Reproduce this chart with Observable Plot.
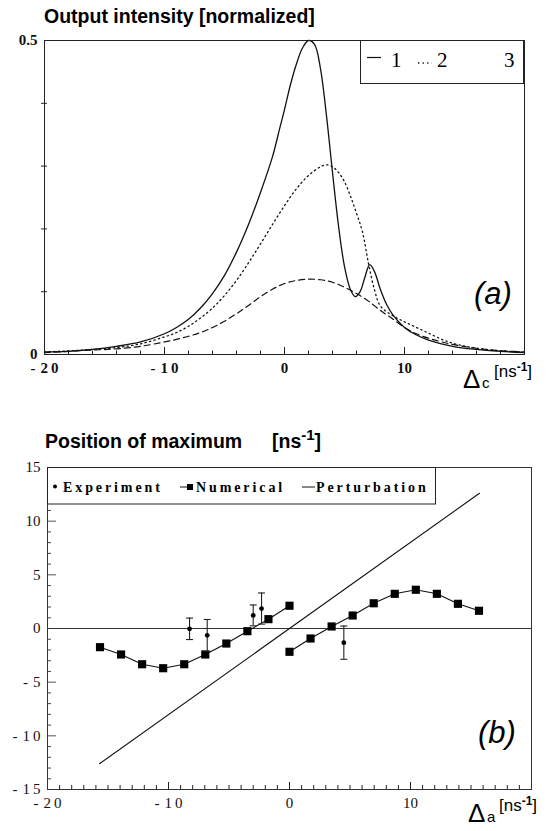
<!DOCTYPE html>
<html><head><meta charset="utf-8">
<script src="https://cdn.jsdelivr.net/npm/d3@7"></script>
<script src="https://cdn.jsdelivr.net/npm/@observablehq/plot@0.6"></script>
<style>
html,body{margin:0;padding:0;background:#fff;}
#wrap{position:relative;width:549px;height:831px;overflow:hidden;background:#fff;}
#pa,#pb,#ov{position:absolute;left:0;}
#pa{top:0px;} #pb{top:400px;} #ov{top:0px;}
</style></head><body>
<div id="wrap"><div id="pa"></div><div id="pb"></div><svg id="ov" width="549" height="831"></svg></div>
<script>
// ---------- Panel (a): output intensity vs detuning ----------
const curve1X = [-20,-18,-16,-14,-12,-10,-9,-8,-7,-6,-5,-4,-3,-2,-1,-0.4,0,0.5,1,1.5,2,2.5,3,3.5,4,4.5,5,5.5,5.9,6.3,6.7,7.1,7.5,8,8.5,9,10,11,12,14,16,18,20];
const curve1Y = [0.004,0.005,0.008,0.013,0.02,0.033,0.043,0.056,0.074,0.097,0.126,0.163,0.207,0.258,0.315,0.36,0.39,0.43,0.463,0.488,0.5,0.494,0.455,0.38,0.29,0.205,0.14,0.103,0.092,0.1,0.123,0.143,0.132,0.103,0.08,0.064,0.043,0.031,0.023,0.013,0.008,0.005,0.003];
const curve2X = [-20,-16,-14,-12,-10,-9,-8,-7,-6,-5,-4,-3,-2,-1,0,1,2,3,3.5,4,4.5,5,5.5,6,6.5,7,7.5,8,9,10,11,12,13,14,16,18,20];
const curve2Y = [0.004,0.008,0.011,0.017,0.028,0.035,0.045,0.058,0.074,0.094,0.118,0.146,0.176,0.207,0.237,0.264,0.285,0.299,0.302,0.299,0.29,0.275,0.252,0.225,0.195,0.145,0.103,0.077,0.062,0.052,0.043,0.034,0.025,0.018,0.01,0.006,0.004];
const curve3X = [-20,-18,-16,-14,-12,-10,-9,-8,-7,-6,-5,-4,-3,-2,-1,0,1,2,3,4,5,6,7,8,9,10,11,12,14,16,18,20];
const curve3Y = [0.003,0.005,0.007,0.009,0.013,0.02,0.024,0.029,0.035,0.043,0.053,0.065,0.078,0.092,0.104,0.113,0.118,0.12,0.119,0.115,0.107,0.097,0.085,0.07,0.057,0.043,0.033,0.026,0.016,0.01,0.006,0.004];
const xLabelsA = [-20,-10,0,10];
const xMajorA = [-10,0,10];
const xMinorA = [-18,-16,-14,-12,-8,-6,-4,-2,2,4,6,8,12,14,16,18];
const yLabelsA = [0,0.5];
const yMinorA = [0.1,0.2,0.3,0.4];
const legendA = ["1","2","3"];

// ---------- Panel (b): position of maximum ----------
const numLowX = [-15.66,-13.92,-12.18,-10.44,-8.7,-6.96,-5.22,-3.48,-1.74,0];
const numLowY = [-1.74,-2.42,-3.33,-3.70,-3.33,-2.42,-1.40,-0.25,0.87,2.12];
const numHighX = [0,1.74,3.48,5.22,6.96,8.7,10.44,12.18,13.92,15.66];
const numHighY = [-2.17,-0.93,0.19,1.21,2.35,3.23,3.61,3.23,2.30,1.65];
const expX = [-8.26,-6.8,-3.0,-2.31,4.49];
const expY = [-0.03,-0.64,1.22,1.86,-1.32];
const expErr = [1.0,1.48,0.97,1.45,1.55];
const perturbX = [-15.7,15.7];
const perturbY = [-12.6,12.6];
const xLabelsB = [-20,-10,0,10];
const yLabelsB = [-15,-10,-5,0,5,10,15];
const legendB = ["Experiment","Numerical","Perturbation"];

const zip = (xs, ys, extra = {}) => xs.map((x, i) => ({x, y: ys[i], ...extra}));
const c1 = zip(curve1X, curve1Y), c2 = zip(curve2X, curve2Y), c3 = zip(curve3X, curve3Y);
const numTable = [...zip(numLowX, numLowY, {branch: "low"}), ...zip(numHighX, numHighY, {branch: "high"})];
const expTable = expX.map((x, i) => ({x, y: expY[i], lo: expY[i] - expErr[i], hi: expY[i] + expErr[i]}));
const perturbTable = zip(perturbX, perturbY);

const fmt = d => d < 0 ? "-\u2004" + String(-d).split("").join("\u2009") : String(d);
const range = (a, b) => d3.range(a, b + 1);

const W = 549;
// Panel A geometry
const aH = 400, aMT = 40, aMR = 25, aMB = 46, aML = 44;
const aPW = W - aML - aMR, aPH = aH - aMT - aMB;
const plotA = Plot.plot({
  width: W, height: aH, marginTop: aMT, marginRight: aMR, marginBottom: aMB, marginLeft: aML,
  style: "font-family:'Liberation Serif','Times New Roman',serif;font-size:15px;font-weight:bold;color:#111;background:#fff;overflow:visible;",
  x: {domain: [-20, 20], ticks: xLabelsA, tickSize: 0, tickPadding: 8, tickFormat: fmt, label: null},
  y: {domain: [0, 0.5], ticks: yLabelsA, tickSize: 0, tickPadding: 7, tickFormat: d => String(d), label: null},
  marks: [
    Plot.tickX(xMinorA, {x: d => d, insetTop: aPH - 3.5, stroke: "#222"}),
    Plot.tickX(xMajorA, {x: d => d, insetTop: aPH - 7, stroke: "#222"}),
    Plot.tickY(yMinorA, {y: d => d, insetLeft: -3, insetRight: aPW - 3, stroke: "#222"}),
    Plot.line(c3, {x: "x", y: "y", curve: "catmull-rom", stroke: "#111", strokeWidth: 1.2, strokeDasharray: "6,4"}),
    Plot.line(c2, {x: "x", y: "y", curve: "catmull-rom", stroke: "#111", strokeWidth: 1.3, strokeDasharray: "1.3,3.3"}),
    Plot.line(c1, {x: "x", y: "y", curve: "catmull-rom", stroke: "#111", strokeWidth: 1.3}),
    Plot.frame({stroke: "#222"})
  ]
});
document.getElementById("pa").appendChild(plotA);

// Panel B geometry
const bH = 431, bMT = 67, bMR = 18, bMB = 42, bML = 47;
const bPW = W - bML - bMR, bPH = bH - bMT - bMB;
const capSymbol = {draw(ctx) { ctx.moveTo(-3.5, 0); ctx.lineTo(3.5, 0); }};
const plotB = Plot.plot({
  width: W, height: bH, marginTop: bMT, marginRight: bMR, marginBottom: bMB, marginLeft: bML,
  style: "font-family:'Liberation Serif','Times New Roman',serif;font-size:15px;color:#111;background:#fff;overflow:visible;",
  x: {domain: [-20, 20], ticks: xLabelsB, tickSize: 0, tickPadding: 8, tickFormat: fmt, label: null},
  y: {domain: [-15, 15], ticks: yLabelsB, tickSize: 0, tickPadding: 7, tickFormat: fmt, label: null},
  marks: [
    Plot.tickX(range(-19, 19).filter(d => d % 10 !== 0), {x: d => d, insetTop: bPH - 4, stroke: "#222"}),
    Plot.tickX([-10, 0, 10], {x: d => d, insetTop: bPH - 7, stroke: "#222"}),
    Plot.tickY(range(-14, 14).filter(d => d % 5 !== 0), {y: d => d, insetRight: bPW - 4, stroke: "#444"}),
    Plot.tickY([-10, -5, 5, 10], {y: d => d, insetRight: bPW - 9, stroke: "#555"}),
    Plot.ruleY([0], {stroke: "#333", strokeWidth: 1}),
    Plot.line(perturbTable, {x: "x", y: "y", stroke: "#111", strokeWidth: 1.1}),
    Plot.line(numTable, {x: "x", y: "y", z: "branch", stroke: "#111", strokeWidth: 1.1}),
    Plot.dot(numTable, {x: "x", y: "y", symbol: "square", r: 4.6, fill: "#000", stroke: "none"}),
    Plot.ruleX(expTable, {x: "x", y1: "lo", y2: "hi", stroke: "#222", strokeWidth: 1.1}),
    Plot.dot(expTable, {x: "x", y: "lo", symbol: capSymbol, stroke: "#222", strokeWidth: 1.1, fill: "none"}),
    Plot.dot(expTable, {x: "x", y: "hi", symbol: capSymbol, stroke: "#222", strokeWidth: 1.1, fill: "none"}),
    Plot.dot(expTable, {x: "x", y: "y", r: 2.4, fill: "#000", stroke: "none"}),
    Plot.frame({stroke: "#333"})
  ]
});
document.getElementById("pb").appendChild(plotB);

// ---------- Overlay text: titles, legends, axis names ----------
const ov = d3.select("#ov");
const sans = "'Liberation Sans', Arial, Helvetica, sans-serif";
const serif = "'Liberation Serif', 'Times New Roman', serif";
function txt(x, y, s, o = {}) {
  return ov.append("text").attr("x", x).attr("y", y).text(s)
    .attr("font-family", o.ff || sans).attr("font-size", o.fs || 14)
    .attr("font-weight", o.fw || "normal").attr("font-style", o.st || "normal")
    .attr("letter-spacing", o.ls || 0).attr("fill", "#000");
}
function sup(t, s, fs, dy, fw) { t.append("tspan").attr("dy", dy).attr("font-size", fs).attr("font-weight", fw || null).text(s); }

txt(44, 23, "Output intensity [normalized]", {fs: 19.5, fw: "bold"});
txt(45, 448, "Position of maximum", {fs: 19.5, fw: "bold"});
const tb = txt(272, 448, "[ns", {fs: 19.5, fw: "bold"});
sup(tb, "-1", 15, -8, "bold"); sup(tb, "]", 19.5, 8, "bold");

// legend a
ov.append("rect").attr("x", 360.5).attr("y", 40.5).attr("width", 163).attr("height", 43).attr("fill", "#fff").attr("stroke", "#222");
ov.append("line").attr("x1", 367).attr("x2", 381).attr("y1", 57.5).attr("y2", 57.5).attr("stroke", "#111").attr("stroke-width", 1.2);
txt(391, 67, legendA[0], {ff: serif, fs: 21});
ov.append("line").attr("x1", 418).attr("x2", 432).attr("y1", 63).attr("y2", 63).attr("stroke", "#111").attr("stroke-width", 1.3).attr("stroke-dasharray", "1.3,3.3");
txt(437, 67, legendA[1], {ff: serif, fs: 21});
txt(504, 67, legendA[2], {ff: serif, fs: 21});

// legend b
ov.append("rect").attr("x", 47.5).attr("y", 467.5).attr("width", 388).attr("height", 36.5).attr("fill", "#fff").attr("stroke", "#222");
ov.append("circle").attr("cx", 55).attr("cy", 486.5).attr("r", 2).attr("fill", "#000");
txt(63, 492, legendB[0], {ff: serif, fs: 14, fw: "bold", ls: 2.9});
ov.append("line").attr("x1", 180).attr("x2", 192).attr("y1", 487).attr("y2", 487).attr("stroke", "#111");
ov.append("rect").attr("x", 187).attr("y", 484).attr("width", 6).attr("height", 6).attr("fill", "#000");
txt(196, 492, legendB[1], {ff: serif, fs: 14, fw: "bold", ls: 2.9});
ov.append("line").attr("x1", 302).attr("x2", 315).attr("y1", 487).attr("y2", 487).attr("stroke", "#111");
txt(316, 492, legendB[2], {ff: serif, fs: 14, fw: "bold", ls: 2.9});

// panel letters
txt(474, 304, "(a)", {fs: 31, st: "italic"});
txt(478, 743, "(b)", {fs: 31, st: "italic"});

// axis names
function axisName(x, y, sub) {
  txt(x, y, "\u0394", {fs: 26});
  txt(x + 19, y, sub, {fs: 15});
  const t = txt(x + 31, y - 11, "[ns", {fs: 17});
  sup(t, "-1", 12, -6, "bold"); sup(t, "]", 17, 6);
}
axisName(463, 388, "c");
axisName(468, 822, "a");
</script></body></html>
